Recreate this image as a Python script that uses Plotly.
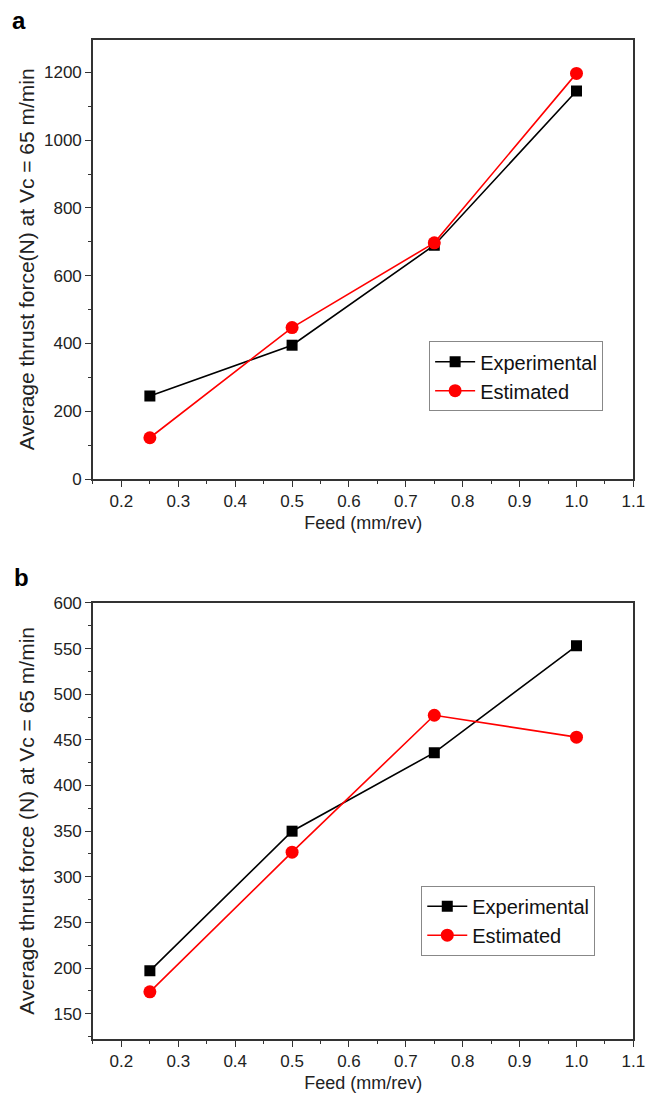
import plotly.graph_objects as go

feed = [0.25, 0.5, 0.75, 1.0]
exp_a = [245, 395, 690, 1145]
est_a = [122, 447, 697, 1197]
exp_b = [197, 350, 436, 553]
est_b = [174, 327, 477, 453]
x_ticks = [0.2, 0.3, 0.4, 0.5, 0.6, 0.7, 0.8, 0.9, 1.0, 1.1]
x_tick_text = ["0.2", "0.3", "0.4", "0.5", "0.6", "0.7", "0.8", "0.9", "1.0", "1.1"]

FONT = "Arial, Liberation Sans, sans-serif"
W, H = 666, 1108

fig = go.Figure()

def add(x, y, name, color, symbol, size, xa, ya, legend, show=True):
    fig.add_trace(go.Scatter(
        x=x, y=y, name=name, mode="lines+markers",
        line=dict(color=color, width=1.6),
        marker=dict(color=color, symbol=symbol, size=size, line=dict(width=0)),
        xaxis=xa, yaxis=ya, legend=legend, showlegend=show))

add(feed, exp_a, "Experimental", "black", "square", 11, "x", "y", "legend")
add(feed, est_a, "Estimated", "#ff0000", "circle", 13, "x", "y", "legend")
add(feed, exp_b, "Experimental", "black", "square", 11, "x2", "y2", "legend2")
add(feed, est_b, "Estimated", "#ff0000", "circle", 13, "x2", "y2", "legend2")

xdom = [94.7 / W, 645 / W]
ydom_a = [1 - 478.3 / H, 1 - 31.7 / H]
ydom_b = [1 - 1048.3 / H, 1 - 604.3 / H]

axcommon = dict(
    showline=True, linecolor="#333333", linewidth=1.5, mirror=True,
    ticks="outside", ticklen=6, tickwidth=1.3, tickcolor="#333333",
    showgrid=False, zeroline=False,
    tickfont=dict(family=FONT, size=17, color="#222222"),
)

xcommon = dict(axcommon, range=[0.15, 1.1], tickvals=x_ticks, ticktext=x_tick_text,
               minor=dict(dtick=0.05, tick0=0.15, ticks="outside", ticklen=3,
                          tickwidth=1.3, tickcolor="#333333"),
               title=dict(text="Feed (mm/rev)", font=dict(family=FONT, size=18, color="#222222"),
                          standoff=6))

fig.update_layout(
    width=W, height=H, margin=dict(l=0, r=0, t=0, b=0),
    paper_bgcolor="white", plot_bgcolor="white",
    xaxis=dict(xcommon, domain=xdom, anchor="y"),
    yaxis=dict(axcommon, domain=ydom_a, anchor="x", range=[0, 1295],
               tickvals=[0, 200, 400, 600, 800, 1000, 1200],
               minor=dict(dtick=100, tick0=0, ticks="outside", ticklen=3,
                          tickwidth=1.3, tickcolor="#333333")),
    xaxis2=dict(xcommon, domain=xdom, anchor="y2"),
    yaxis2=dict(axcommon, domain=ydom_b, anchor="x2", range=[122, 600],
                tickvals=[150, 200, 250, 300, 350, 400, 450, 500, 550, 600],
                minor=dict(dtick=25, tick0=0, ticks="outside", ticklen=3,
                           tickwidth=1.3, tickcolor="#333333")),
    legend=dict(x=437 / W, y=1 - 338 / H, xanchor="left", yanchor="top",
                bordercolor="#888888", borderwidth=1, bgcolor="white",
                font=dict(family=FONT, size=20, color="#111111"),
                tracegroupgap=0, itemwidth=40),
    legend2=dict(x=429 / W, y=1 - 892 / H, xanchor="left", yanchor="top",
                 bordercolor="#888888", borderwidth=1, bgcolor="white",
                 font=dict(family=FONT, size=20, color="#111111"),
                 tracegroupgap=0, itemwidth=40),
    showlegend=True,
)

annots = [
    dict(text="<b>a</b>", x=10 / W, y=1 - 12 / H, xanchor="left", yanchor="middle",
         font=dict(family=FONT, size=24, color="black")),
    dict(text="<b>b</b>", x=12 / W, y=1 - 578 / H, xanchor="left", yanchor="middle",
         font=dict(family=FONT, size=24, color="black")),
    dict(text="Average thrust force(N) at Vc = 65 m/min", textangle=-90,
         x=27 / W, y=(ydom_a[0] + ydom_a[1]) / 2, xanchor="center", yanchor="middle",
         font=dict(family=FONT, size=21, color="#222222")),
    dict(text="Average thrust force (N) at Vc = 65 m/min", textangle=-90,
         x=27 / W, y=(ydom_b[0] + ydom_b[1]) / 2, xanchor="center", yanchor="middle",
         font=dict(family=FONT, size=21, color="#222222")),
]
for a in annots:
    fig.add_annotation(xref="paper", yref="paper", showarrow=False, **a)

fig.write_html("out.html")
